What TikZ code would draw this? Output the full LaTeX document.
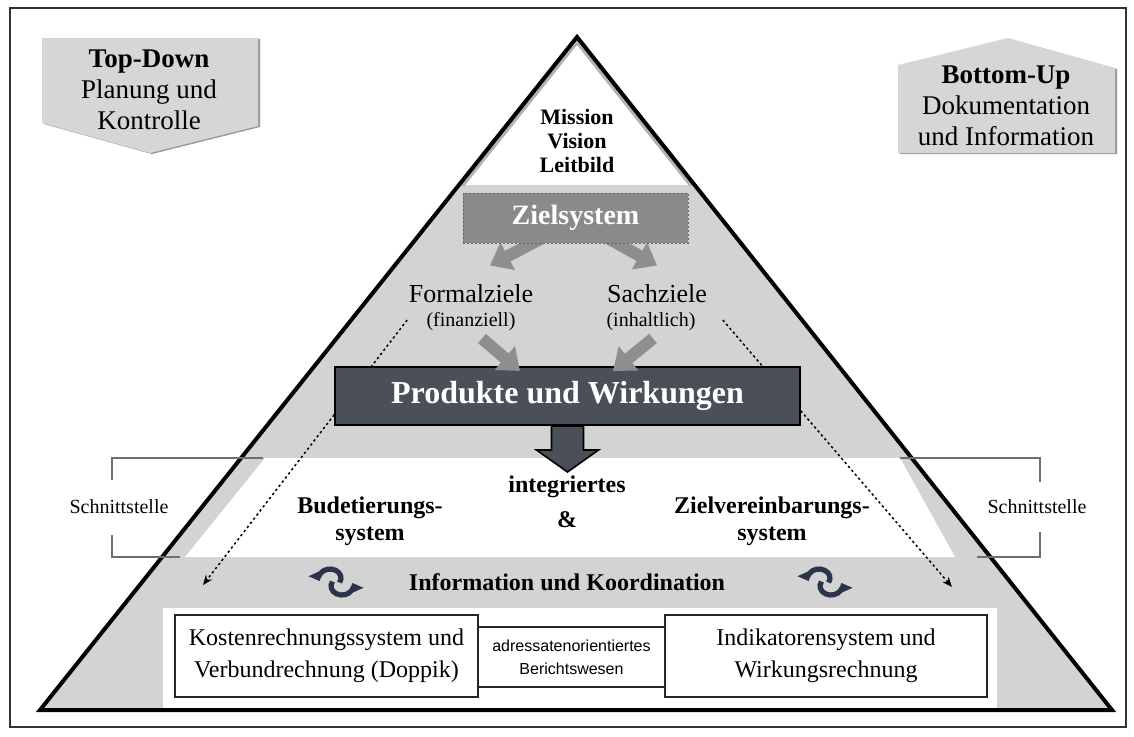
\documentclass[tikz,border=0pt]{standalone}
\usepackage{fontspec}
\setmainfont{Liberation Serif}
\newfontfamily\arialfont{Liberation Sans}
\usetikzlibrary{arrows.meta,calc}
\definecolor{trigray}{HTML}{D3D3D3}
\definecolor{boxgray}{HTML}{D6D6D6}
\definecolor{zsgray}{HTML}{8A8A8A}
\definecolor{argray}{HTML}{8E8E8E}
\definecolor{pwdark}{HTML}{4A4F58}
\definecolor{navy}{HTML}{2B3448}
\definecolor{brgray}{HTML}{6E6E6E}
\begin{document}
\begin{tikzpicture}[x=0.5pt,y=-0.5pt,
  lbl/.style={inner sep=0pt, align=center},
  bigtxt/.style={lbl, font=\fontsize{13.5pt}{15.5pt}\selectfont},
  boldlbl/.style={lbl, font=\fontsize{12pt}{13.5pt}\selectfont\bfseries},
  goal/.style={lbl, font=\fontsize{13pt}{15pt}\selectfont},
  goalsub/.style={lbl, font=\fontsize{10pt}{12pt}\selectfont},
  garrow/.style={draw=argray, line width=6pt, -{Triangle[width=15pt,length=10pt]}},
  dotarrow/.style={draw=black, line width=0.75pt, dash pattern=on 1.2pt off 1.4pt, -{Stealth[length=5pt,width=4pt]}},
  bracket/.style={draw=brgray, line width=0.8pt},
  swirl/.style={draw=navy, line width=2.6pt, -{Triangle[length=4.5pt,width=8pt]}},
  wbox/.style={draw=black!85, line width=1pt, fill=white, inner sep=0pt, align=center},
]
\useasboundingbox (0,0) rectangle (1134,736);
\fill[white] (0,0) rectangle (1134,736);
\draw[line width=1pt, draw=black!80] (10,8) rectangle (1126,727);

% pyramid
\coordinate (apex) at (577,37);
\coordinate (bl) at (40,710);
\coordinate (br) at (1112,710);
\fill[trigray] (apex) -- (br) -- (bl) -- cycle;
\begin{scope}
  \clip (apex) -- (br) -- (bl) -- cycle;
  \fill[white] (0,0) rectangle (1134,185);
  \clip (0,0) rectangle (1134,185);
  \draw[black!30, line width=5pt] (apex) -- (br) -- (bl) -- cycle;
\end{scope}
\fill[white] (265,458) -- (900,458) -- (955,557) -- (185,557) -- cycle;
\fill[white] (163,608) rectangle (997,708);
\draw[line width=2pt, line join=miter] (apex) -- (br) -- (bl) -- cycle;

% interface brackets
\draw[bracket] (112,480) -- (112,458) -- (263,458);
\draw[bracket] (112,535) -- (112,557) -- (180,557);
\draw[bracket] (1040,482) -- (1040,458) -- (900,458);
\draw[bracket] (1040,532) -- (1040,557) -- (977,557);
\node[lbl, font=\fontsize{10pt}{12pt}\selectfont] (sl) at (119,507) {Schnittstelle};
\node[lbl, font=\fontsize{10pt}{12pt}\selectfont] (sr) at (1037,507) {Schnittstelle};

% Top-Down / Bottom-Up
\fill[black!40] (44,39) -- (260,39) -- (260,127) -- (152,154) -- (44,124) -- cycle;
\fill[boxgray] (42,38) -- (258,38) -- (258,126) -- (150,153) -- (42,123) -- cycle;
\node[bigtxt] (td) at (149,90) {\textbf{Top-Down}\\Planung und\\Kontrolle};
\fill[black!40] (900,154) -- (900,66) -- (1010,39) -- (1117,69) -- (1117,154) -- cycle;
\fill[boxgray] (898,153) -- (898,65) -- (1008,38) -- (1115,68) -- (1115,153) -- cycle;
\node[bigtxt] (bu) at (1006,106) {\textbf{Bottom-Up}\\Dokumentation\\und Information};

% top of the pyramid
\node[lbl, font=\fontsize{11pt}{12pt}\selectfont\bfseries] (mvl) at (577,141) {Mission\\Vision\\Leitbild};

% goal system
\node[goal] (fz) at (471,294) {Formalziele};
\node[goalsub] (fzs) at (471,322) {(finanziell)};
\node[goal] (sz) at (657,294) {Sachziele};
\node[goalsub] (szs) at (651,322) {(inhaltlich)};
\draw[garrow] (546,236) -- ($(fz.north)+(19,-19)$);
\draw[garrow] (604,236) -- ($(sz.north)+(0,-19)$);
\node[draw=black!60, dash pattern=on 1pt off 1pt, fill=zsgray, minimum width=112.5pt, minimum height=25pt, inner sep=0pt,
      text=white, font=\fontsize{14pt}{16pt}\selectfont\bfseries] (zs) at (575.5,218) {Zielsystem};

% dotted arrows
\coordinate (dl) at (203,585);
\coordinate (dr) at (952,587);
\draw[dotarrow] ($(fzs.west)+(-19,-2)$) -- (dl);
\draw[dotarrow] ($(szs.east)+(27,-2)$) -- (dr);

% products
\node[draw=black, line width=1pt, fill=pwdark, minimum width=232.5pt, minimum height=29pt, inner sep=0pt,
      text=white, font=\fontsize{16pt}{18pt}\selectfont\bfseries] (pw) at (567.5,396) {Produkte und Wirkungen};
\draw[garrow] ($(fzs.south)+(11,7)$) -- ($(pw.north)+(-47.5,5)$);
\draw[garrow] ($(szs.south)+(2,7)$) -- ($(pw.north)+(45.5,5)$);
\draw[draw=black, line width=0.8pt, fill=pwdark] (pw.south) ++(-16,0) -- ++(0,24) -- ++(-15,0) -- ++(31,22) -- ++(31,-22) -- ++(-15,0) -- ++(0,-24) -- cycle;

% middle band
\node[boldlbl] (bud) at (370,521) {Budetierungs-\\system};
\node[boldlbl] (int) at (567,487) {integriertes};
\node[boldlbl] (amp) at (567,520) {\&};
\node[boldlbl] (zv) at (772,521) {Zielvereinbarungs-\\system};
\node[boldlbl] (ik) at (567,582) {Information und Koordination};

% swirl icons
\foreach \cx in {336,825}{
  \begin{scope}[shift={(\cx,582)}, yscale=-1]
    \draw[swirl] (-6,4) ++(-30:11 and 9) arc[start angle=-30, end angle=200, x radius=11, y radius=9];
    \draw[swirl] (6,-4) ++(150:11 and 9) arc[start angle=150, end angle=380, x radius=11, y radius=9];
  \end{scope}
}

% bottom boxes
\node[wbox, minimum width=93.5pt, minimum height=30pt, font=\arialfont\fontsize{8pt}{11.5pt}\selectfont] (ber) at (571.5,657) {adressatenorientiertes\\Berichtswesen};
\node[wbox, minimum width=151.5pt, minimum height=41pt, font=\fontsize{12pt}{16pt}\selectfont] (kr) at (326.5,656) {Kostenrechnungssystem und\\Verbundrechnung (Doppik)};
\node[wbox, minimum width=161pt, minimum height=41pt, font=\fontsize{12pt}{16pt}\selectfont] (ind) at (826,656) {Indikatorensystem und\\Wirkungsrechnung};
\end{tikzpicture}
\end{document}
